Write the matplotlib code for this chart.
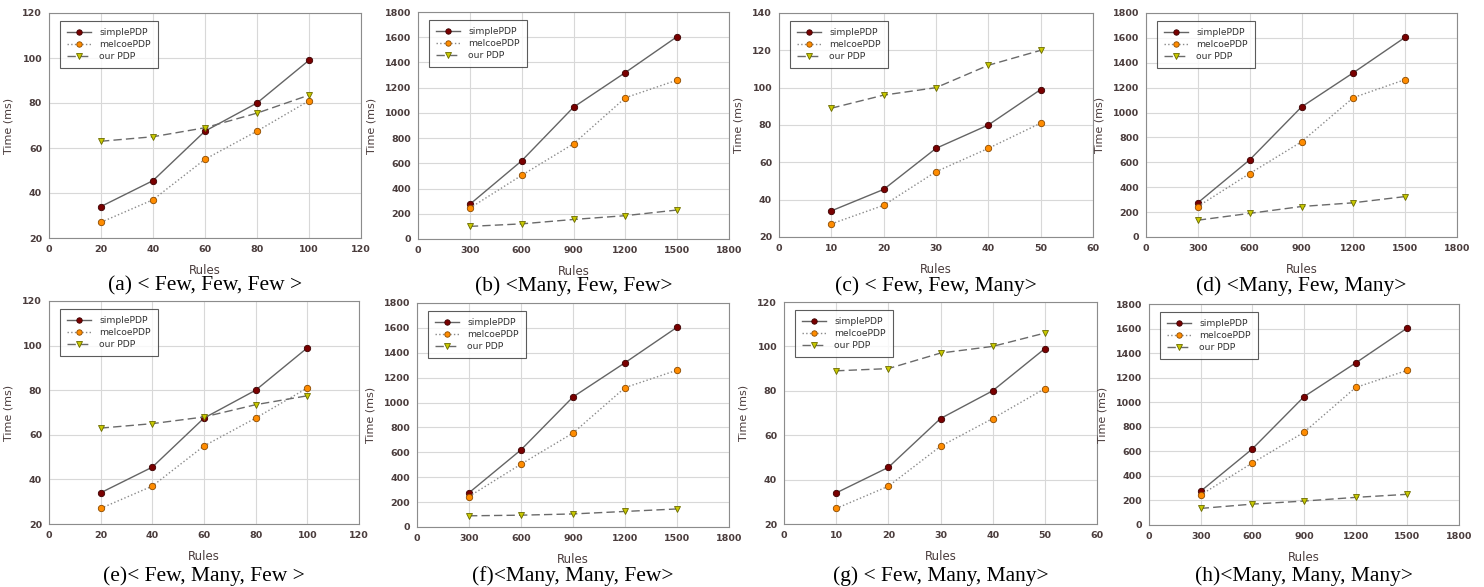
import matplotlib
matplotlib.use("Agg")
import matplotlib.pyplot as plt

# ---------------- data ----------------
x_few_a = [20, 40, 60, 80, 100]
x_many = [300, 600, 900, 1200, 1500]
x_few_c = [10, 20, 30, 40, 50]

simple_small = [34, 45.5, 67.5, 80, 99]
melcoe_small = [27, 37, 55, 67.5, 81]
simple_large = [275, 620, 1045, 1320, 1605]
melcoe_large = [245, 505, 755, 1120, 1260]
melcoe_large_d = [245, 510, 765, 1120, 1265]

our_a = [63, 65, 69, 75.5, 83.5]
our_b = [100, 120, 155, 185, 230]
our_c = [89, 96, 100, 112, 120]
our_d = [135, 190, 245, 275, 325]
our_e = [63, 65, 68, 73.5, 77.5]
our_f = [90, 95, 105, 125, 145]
our_g = [89, 90, 97, 100, 106]
our_h = [135, 170, 195, 225, 250]

captions = ["(a) < Few, Few, Few >", "(b) <Many, Few, Few>", "(c) < Few, Few, Many>",
            "(d) <Many, Few, Many>", "(e)< Few, Many, Few >", "(f)<Many, Many, Few>",
            "(g) < Few, Many, Many>", "(h)<Many, Many, Many>"]
series_names = ["simplePDP", "melcoePDP", "our PDP"]

panels = [
    (x_few_a, simple_small, melcoe_small, our_a, (0, 120), (20, 120), 20, 20),
    (x_many, simple_large, melcoe_large, our_b, (0, 1800), (0, 1800), 300, 200),
    (x_few_c, simple_small, melcoe_small, our_c, (0, 60), (20, 140), 10, 20),
    (x_many, simple_large, melcoe_large_d, our_d, (0, 1800), (0, 1800), 300, 200),
    (x_few_a, simple_small, melcoe_small, our_e, (0, 120), (20, 120), 20, 20),
    (x_many, simple_large, melcoe_large, our_f, (0, 1800), (0, 1800), 300, 200),
    (x_few_c, simple_small, melcoe_small, our_g, (0, 60), (20, 120), 10, 20),
    (x_many, simple_large, melcoe_large, our_h, (0, 1800), (0, 1800), 300, 200),
]

# axes boxes in pixels: left, right, top, bottom
boxes = [
    (49, 361, 13, 238), (418, 729, 12, 239), (779, 1093, 13, 237), (1146, 1457, 13, 237),
    (49, 359, 301, 524), (417, 729, 303, 527), (784, 1097, 302, 524), (1149, 1459, 304, 525),
]
caption_y = [286, 286, 286, 286, 576, 576, 576, 576]

W, H = 1484, 587
fig = plt.figure(figsize=(W / 100, H / 100), dpi=100)
fig.patch.set_facecolor("white")

txt_col = "#4a3c3c"
for i, (pan, box) in enumerate(zip(panels, boxes)):
    xs, s, m, o, xl, yl, xstep, ystep = pan
    l, r, t, b = box
    ax = fig.add_axes([l / W, 1 - b / H, (r - l) / W, (b - t) / H])
    ax.plot(xs, s, '-', color="#646464", lw=1.0, marker='o', ms=4.6,
            mfc="#7a0000", mec="#3a0000", mew=0.6, label=series_names[0], zorder=3)
    ax.plot(xs, m, ':', color="#8a8a8a", lw=1.0, marker='o', ms=4.6,
            mfc="#ff8c00", mec="#8a4a00", mew=0.6, label=series_names[1], zorder=3)
    ax.plot(xs, o, '--', color="#6a6a6a", lw=1.0, dashes=(6, 3), marker='v', ms=5,
            mfc="#c8c800", mec="#6a6a00", mew=0.6, label=series_names[2], zorder=3)
    ax.set_xlim(*xl)
    ax.set_ylim(*yl)
    ax.set_xticks(range(xl[0], xl[1] + 1, xstep))
    ax.set_yticks(range(yl[0], yl[1] + 1, ystep))
    ax.grid(True, color="#d8d8d8", lw=0.8)
    ax.set_axisbelow(True)
    for sp in ax.spines.values():
        sp.set_color("#8c8c8c")
        sp.set_linewidth(0.8)
    ax.tick_params(labelsize=6.8, colors=txt_col, length=0, pad=5)
    for lab in ax.get_xticklabels() + ax.get_yticklabels():
        lab.set_fontweight("bold")
    ax.set_xlabel("Rules", fontsize=8.5, color=txt_col, labelpad=7)
    ax.set_ylabel("Time (ms)", fontsize=8, color=txt_col, labelpad=6)
    leg = ax.legend(loc="upper left", fontsize=6.6, frameon=True, fancybox=False,
                    edgecolor="#333333", borderpad=0.8, handlelength=2.6,
                    handletextpad=0.9, labelspacing=0.3, markerscale=0.85,
                    bbox_to_anchor=(0.02, 0.985))
    leg.get_frame().set_linewidth(0.8)
    for tx in leg.get_texts():
        tx.set_color("#333333")
    cx = (l + r) / 2
    fig.text(cx / W, 1 - caption_y[i] / H, captions[i], fontsize=15.5,
             family="Liberation Serif", ha="center", va="center", color="black")

fig.savefig("out.png", dpi=100)
